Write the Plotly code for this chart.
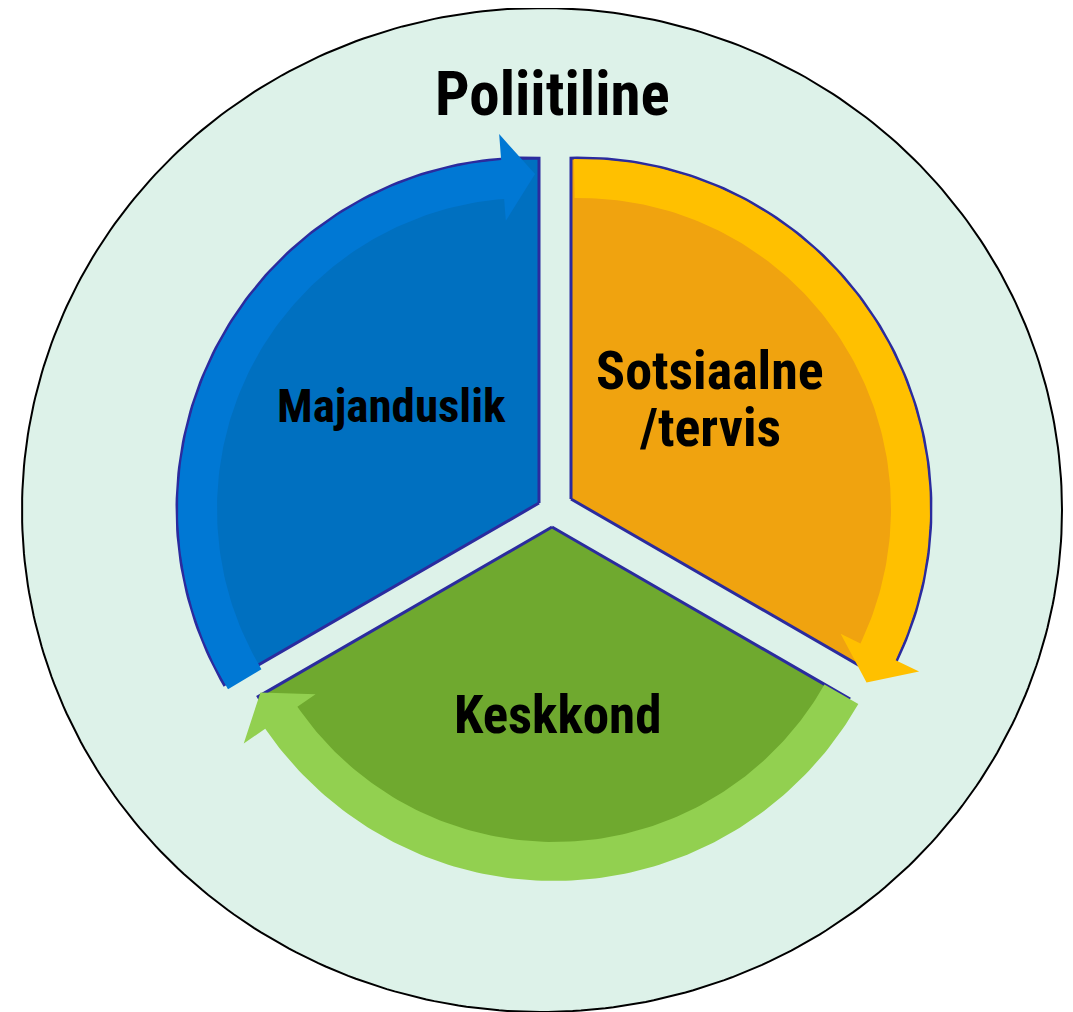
import numpy as np
import plotly.graph_objects as go

# ---------------- data ----------------
outer_label = "Poliitiline"
labels = ["Majanduslik", "Sotsiaalne<br>/tervis", "Keskkond"]
shares = [1, 1, 1]
wedge_colors = ["#0070C0", "#F0A30F", "#6FA92F"]
arrow_colors = ["#0078D4", "#FFC000", "#92D050"]

# ---------------- geometry (pixel space) ----------------
W, H = 1073, 1012
OFF = 8  # page body margin
outer_c, outer_rx, outer_ry = (542, 510), 520, 502
outline_col = "#2B2B9E"
font_family = "Roboto Condensed, Open Sans Condensed, Liberation Sans, Arial, sans-serif"
geom = [
    dict(V=(539, 503), C=(528, 509), Rw=351, cap=None, arc_end=None, tail_off=1.0,
         text=(391, 405), size=47, line_gap=0),
    dict(V=(571, 499), C=(580, 509), Rw=351, cap=345, arc_end=-25.8, tail_off=1.0,
         text=(710, 370), size=54, line_gap=57),
    dict(V=(552, 527), C=(554, 531), Rw=339, cap=None, arc_end=None, tail_off=0.4,
         text=(557, 715), size=53, line_gap=0),
]
title_pos, title_size = (552, 94), 61
r_in, r_out, r_tip = 311, 350, 335
wing_out, wing_in = 26, 22
base_off, tip_off = 4.4, -1.2


def pt(C, r, t):
    t = np.radians(t)
    return C[0] + r * np.cos(t), C[1] - r * np.sin(t)


def ang(C, p):
    return np.degrees(np.arctan2(-(p[1] - C[1]), p[0] - C[0]))


def ray_circle(V, a, C, R):
    d = np.array([np.cos(np.radians(a)), -np.sin(np.radians(a))])
    f = np.array(V, float) - np.array(C, float)
    b = 2 * f.dot(d)
    c = f.dot(f) - R * R
    s = (-b + np.sqrt(b * b - 4 * c)) / 2
    return s, d


def arc(C, r, t0, t1, n=120):
    ts = np.linspace(t0, t1, n)
    return [pt(C, r, t) for t in ts]


fig = go.Figure()

tt = np.linspace(0, 2 * np.pi, 400)
fig.add_trace(go.Scatter(
    x=outer_c[0] + outer_rx * np.cos(tt), y=outer_c[1] + outer_ry * np.sin(tt),
    mode="lines", fill="toself", fillcolor="#DDF2E9",
    line=dict(color="black", width=2), hoverinfo="skip", showlegend=False))

total = sum(shares)
starts, ends = [], []
a = 210.0
for s in shares:
    starts.append(a)
    a -= 360.0 * s / total
    ends.append(a)

for i, g in enumerate(geom):
    V, C, Rw = g["V"], g["C"], g["Rw"]
    a0, a1 = starts[i], ends[i]
    s0, d0 = ray_circle(V, a0, C, Rw)
    s1, d1 = ray_circle(V, a1, C, Rw)
    p0 = (V[0] + s0 * d0[0], V[1] + s0 * d0[1])
    p1 = (V[0] + s1 * d1[0], V[1] + s1 * d1[1])
    t0 = ang(C, p0)
    t1 = ang(C, p1)
    while t1 > t0:
        t1 -= 360
    pts = [V, p0]
    if g["arc_end"] is not None:
        te = g["arc_end"]
        while te > t0:
            te -= 360
        pts += arc(C, Rw, t0, te)
        sc = min(s1, g["cap"])
        pts.append((V[0] + sc * d1[0], V[1] + sc * d1[1]))
    else:
        pts += arc(C, Rw, t0, t1)
        pts.append(p1)
    pts.append(V)
    xs, ys = zip(*pts)
    fig.add_trace(go.Scatter(x=xs, y=ys, mode="lines", fill="toself",
                             fillcolor=wedge_colors[i],
                             line=dict(color=outline_col, width=3),
                             hoverinfo="skip", showlegend=False))

for i, g in enumerate(geom):
    C = g["C"]
    tail = starts[i] + g["tail_off"]
    base = ends[i] + base_off
    tip = ends[i] + tip_off
    pts = arc(C, r_out, tail, base)
    pts.append(pt(C, r_out + wing_out, base))
    pts.append(pt(C, r_tip, tip))
    pts.append(pt(C, r_in - wing_in, base))
    pts += arc(C, r_in, base, tail)
    pts.append(pts[0])
    xs, ys = zip(*pts)
    fig.add_trace(go.Scatter(x=xs, y=ys, mode="lines", fill="toself",
                             fillcolor=arrow_colors[i], line=dict(width=0),
                             hoverinfo="skip", showlegend=False))

annotations = [dict(x=title_pos[0], y=title_pos[1], text="<b>%s</b>" % outer_label,
                    showarrow=False, xref="x", yref="y",
                    font=dict(family=font_family, size=title_size, color="black"))]
for i, g in enumerate(geom):
    for k, line in enumerate(labels[i].split("<br>")):
        annotations.append(dict(x=g["text"][0], y=g["text"][1] + k * g["line_gap"],
                                text="<b>%s</b>" % line, showarrow=False,
                                xref="x", yref="y",
                                font=dict(family=font_family, size=g["size"], color="black")))

fig.update_layout(
    width=W, height=H, margin=dict(l=0, r=0, t=0, b=0),
    paper_bgcolor="white", plot_bgcolor="white",
    xaxis=dict(range=[OFF, W + OFF], visible=False, fixedrange=True),
    yaxis=dict(range=[H + OFF, OFF], visible=False, fixedrange=True),
    annotations=annotations, showlegend=False,
)
fig.write_html("out.html")
